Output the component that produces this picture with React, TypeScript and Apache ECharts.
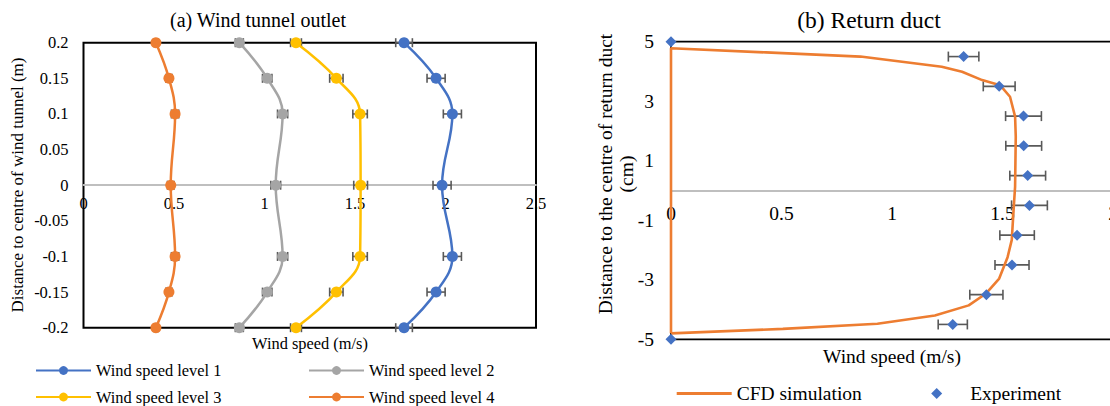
import React, { useEffect, useRef } from "react";
import * as echarts from "echarts";

// ---- (a) Wind tunnel outlet ----
const yPositions = [0.2, 0.15, 0.1, 0, -0.1, -0.15, -0.2];
const level1 = [1.771, 1.948, 2.038, 1.981, 2.038, 1.948, 1.771];
const level2 = [0.861, 1.015, 1.1, 1.062, 1.1, 1.015, 0.861];
const level3 = [1.174, 1.397, 1.528, 1.531, 1.528, 1.397, 1.174];
const level4 = [0.4, 0.472, 0.506, 0.482, 0.506, 0.472, 0.4];
const err1 = [0.046, 0.05, 0.05, 0.05, 0.05, 0.05, 0.046];
const err2 = [0.022, 0.026, 0.028, 0.027, 0.028, 0.026, 0.022];
const err3 = [0.03, 0.037, 0.04, 0.038, 0.04, 0.037, 0.03];
const err4 = [0.012, 0.017, 0.02, 0.018, 0.02, 0.017, 0.012];
const levelNames = ["Wind speed level 1", "Wind speed level 2", "Wind speed level 3", "Wind speed level 4"];

// ---- (b) Return duct ----
const expPositions = [5, 4.5, 3.5, 2.5, 1.5, 0.5, -0.5, -1.5, -2.5, -3.5, -4.5, -5];
const expSpeed = [0, 1.324, 1.485, 1.595, 1.596, 1.614, 1.622, 1.566, 1.543, 1.427, 1.275, 0];
const expErr = [0, 0.069, 0.072, 0.081, 0.081, 0.081, 0.081, 0.078, 0.077, 0.075, 0.066, 0];
const cfdPositions = [-4.8, 4.78, 4.64, 4.5, 4.16, 3.99, 3.71, 3.54, 3.15, 2.48, 1.81, 0.13, -0.67, -1.66, -2.24, -2.96, -3.47, -3.86, -4.2, -4.48, -4.65, -4.8];
const cfdSpeed = [0, 0, 0.43, 0.857, 1.225, 1.317, 1.408, 1.489, 1.534, 1.557, 1.56, 1.557, 1.55, 1.542, 1.523, 1.485, 1.424, 1.347, 1.194, 0.934, 0.506, 0];

const FONT = '"Liberation Serif", "Times New Roman", serif';
const ERR_COLOR = "#595959";

function errorData(pos: number[], val: number[], err: number[]) {
  return pos.map((p, i) => [p, val[i] - err[i], val[i] + err[i]]);
}

function errorSeries(name: string, data: number[][], axis: number, cap: number) {
  return {
    type: "custom",
    name,
    xAxisIndex: axis,
    yAxisIndex: axis,
    z: 1,
    clip: false,
    encode: { x: [1, 2], y: 0 },
    data,
    renderItem: (params: any, api: any) => {
      const y = api.value(0);
      const lo = api.value(1);
      const hi = api.value(2);
      if (hi - lo <= 0) return { type: "group", children: [] };
      const p1 = api.coord([lo, y]);
      const p2 = api.coord([hi, y]);
      const st = { stroke: ERR_COLOR, lineWidth: 1.6 };
      return {
        type: "group",
        children: [
          { type: "line", shape: { x1: p1[0], y1: p1[1], x2: p2[0], y2: p2[1] }, style: st },
          { type: "line", shape: { x1: p1[0], y1: p1[1] - cap, x2: p1[0], y2: p1[1] + cap }, style: st },
          { type: "line", shape: { x1: p2[0], y1: p2[1] - cap, x2: p2[0], y2: p2[1] + cap }, style: st },
        ],
      };
    },
  };
}

function levelSeries(name: string, vals: number[], color: string) {
  return {
    type: "line",
    name,
    xAxisIndex: 0,
    yAxisIndex: 0,
    z: 3,
    clip: false,
    smooth: 0.4,
    symbol: "circle",
    symbolSize: 11,
    data: yPositions.map((p, i) => [vals[i], p]),
    lineStyle: { color, width: 2.5 },
    itemStyle: { color },
  };
}

export default function App() {
  const ref = useRef<HTMLDivElement>(null);
  useEffect(() => {
    if (!ref.current) return;
    const chart = echarts.init(ref.current, null, { renderer: "svg" });
    const legendText = { fontFamily: FONT, fontSize: 16.4, color: "#000" };
    const legendTextR = { fontFamily: FONT, fontSize: 19.5, color: "#000" };
    const legendBase = { padding: 0, itemWidth: 55, itemHeight: 11, orient: "horizontal" };
    chart.setOption({
      animation: false,
      backgroundColor: "#fff",
      grid: [
        { left: 83.5, top: 42.7, width: 452.5, height: 285, show: true, borderColor: "#000", borderWidth: 2, containLabel: false, outerBoundsMode: "none" },
        { left: 671, top: 41.7, width: 442, height: 297.6, show: true, borderColor: "#000", borderWidth: 1.8, containLabel: false, outerBoundsMode: "none" },
      ],
      xAxis: [
        {
          type: "value", gridIndex: 0, min: 0, max: 2.5, interval: 0.5, offset: -142.5,
          axisLine: { show: true, onZero: false, lineStyle: { color: "#BFBFBF", width: 1.8 } },
          axisTick: { show: false }, splitLine: { show: false },
          axisLabel: { fontFamily: FONT, fontSize: 16.5, color: "#000", margin: 10 },
        },
        {
          type: "value", gridIndex: 1, min: 0, max: 2, interval: 0.5, offset: -148.8,
          axisLine: { show: true, onZero: false, lineStyle: { color: "#BFBFBF", width: 1.8 } },
          axisTick: { show: false }, splitLine: { show: false },
          axisLabel: { fontFamily: FONT, fontSize: 19.5, color: "#000", margin: 13 },
        },
      ],
      yAxis: [
        {
          type: "value", gridIndex: 0, min: -0.2, max: 0.2, interval: 0.05,
          axisLine: { show: false }, axisTick: { show: false }, splitLine: { show: false },
          axisLabel: { fontFamily: FONT, fontSize: 16.5, color: "#000", margin: 15 },
        },
        {
          type: "value", gridIndex: 1, min: -5, max: 5, interval: 2,
          axisLine: { show: false }, axisTick: { show: false }, splitLine: { show: false },
          axisLabel: { fontFamily: FONT, fontSize: 19.5, color: "#000", margin: 17 },
        },
      ],
      legend: [
        { ...legendBase, data: [levelNames[0]], left: 35, top: 362.5, textStyle: legendText },
        { ...legendBase, data: [levelNames[1]], left: 308, top: 362.5, textStyle: legendText },
        { ...legendBase, data: [levelNames[2]], left: 35, top: 389, textStyle: legendText },
        { ...legendBase, data: [levelNames[3]], left: 308, top: 389, textStyle: legendText },
        {
          ...legendBase, data: [{ name: "CFD simulation", icon: "rect" }], left: 676.7, top: 383.5,
          itemHeight: 2.8, textStyle: legendTextR,
        },
        {
          ...legendBase, data: ["Experiment"], left: 931.2, top: 383.5, itemWidth: 11, itemHeight: 11,
          textStyle: { ...legendTextR, padding: [0, 0, 0, 23] },
        },
      ],
      graphic: [
        { type: "text", x: 258, y: 20, style: { text: "(a) Wind tunnel outlet", fontFamily: FONT, fontSize: 20, fill: "#000", align: "center", verticalAlign: "middle" } },
        { type: "text", x: 869, y: 20, style: { text: "(b) Return duct", fontFamily: FONT, fontSize: 23.5, fill: "#000", align: "center", verticalAlign: "middle" } },
        { type: "text", x: 310, y: 343.5, style: { text: "Wind speed (m/s)", fontFamily: FONT, fontSize: 16.4, fill: "#000", align: "center", verticalAlign: "middle" } },
        { type: "text", x: 892, y: 356.5, style: { text: "Wind speed (m/s)", fontFamily: FONT, fontSize: 19.5, fill: "#000", align: "center", verticalAlign: "middle" } },
        { type: "text", x: 17, y: 185, rotation: Math.PI / 2, style: { text: "Distance to centre of wind tunnel (m)", fontFamily: FONT, fontSize: 17, fill: "#000", align: "center", verticalAlign: "middle" } },
        { type: "text", x: 615.5, y: 174, rotation: Math.PI / 2, style: { text: "Distance to the centre of return duct\n(cm)", fontFamily: FONT, fontSize: 19.5, lineHeight: 21, fill: "#000", align: "center", verticalAlign: "middle" } },
      ],
      series: [
        errorSeries("err1", errorData(yPositions, level1, err1), 0, 4.5),
        errorSeries("err2", errorData(yPositions, level2, err2), 0, 4.5),
        errorSeries("err3", errorData(yPositions, level3, err3), 0, 4.5),
        errorSeries("err4", errorData(yPositions, level4, err4), 0, 4.5),
        levelSeries(levelNames[0], level1, "#4472C4"),
        levelSeries(levelNames[1], level2, "#A5A5A5"),
        levelSeries(levelNames[2], level3, "#FFC000"),
        levelSeries(levelNames[3], level4, "#ED7D31"),
        {
          type: "line",
          name: "CFD simulation",
          xAxisIndex: 1,
          yAxisIndex: 1,
          z: 2,
          clip: false,
          smooth: false,
          symbol: "none",
          data: cfdPositions.map((p, i) => [cfdSpeed[i], p]),
          lineStyle: { color: "#ED7D31", width: 2.6 },
          itemStyle: { color: "#ED7D31" },
        },
        errorSeries("expErr", errorData(expPositions, expSpeed, expErr), 1, 5),
        {
          type: "scatter",
          name: "Experiment",
          xAxisIndex: 1,
          yAxisIndex: 1,
          z: 4,
          clip: false,
          symbol: "diamond",
          symbolSize: 11,
          data: expPositions.map((p, i) => [expSpeed[i], p]),
          itemStyle: { color: "#4472C4", opacity: 1 },
        },
      ],
    });
    return () => chart.dispose();
  }, []);
  return <div ref={ref} style={{ position: "fixed", left: 0, top: 0, width: 1110, height: 406 }} />;
}
